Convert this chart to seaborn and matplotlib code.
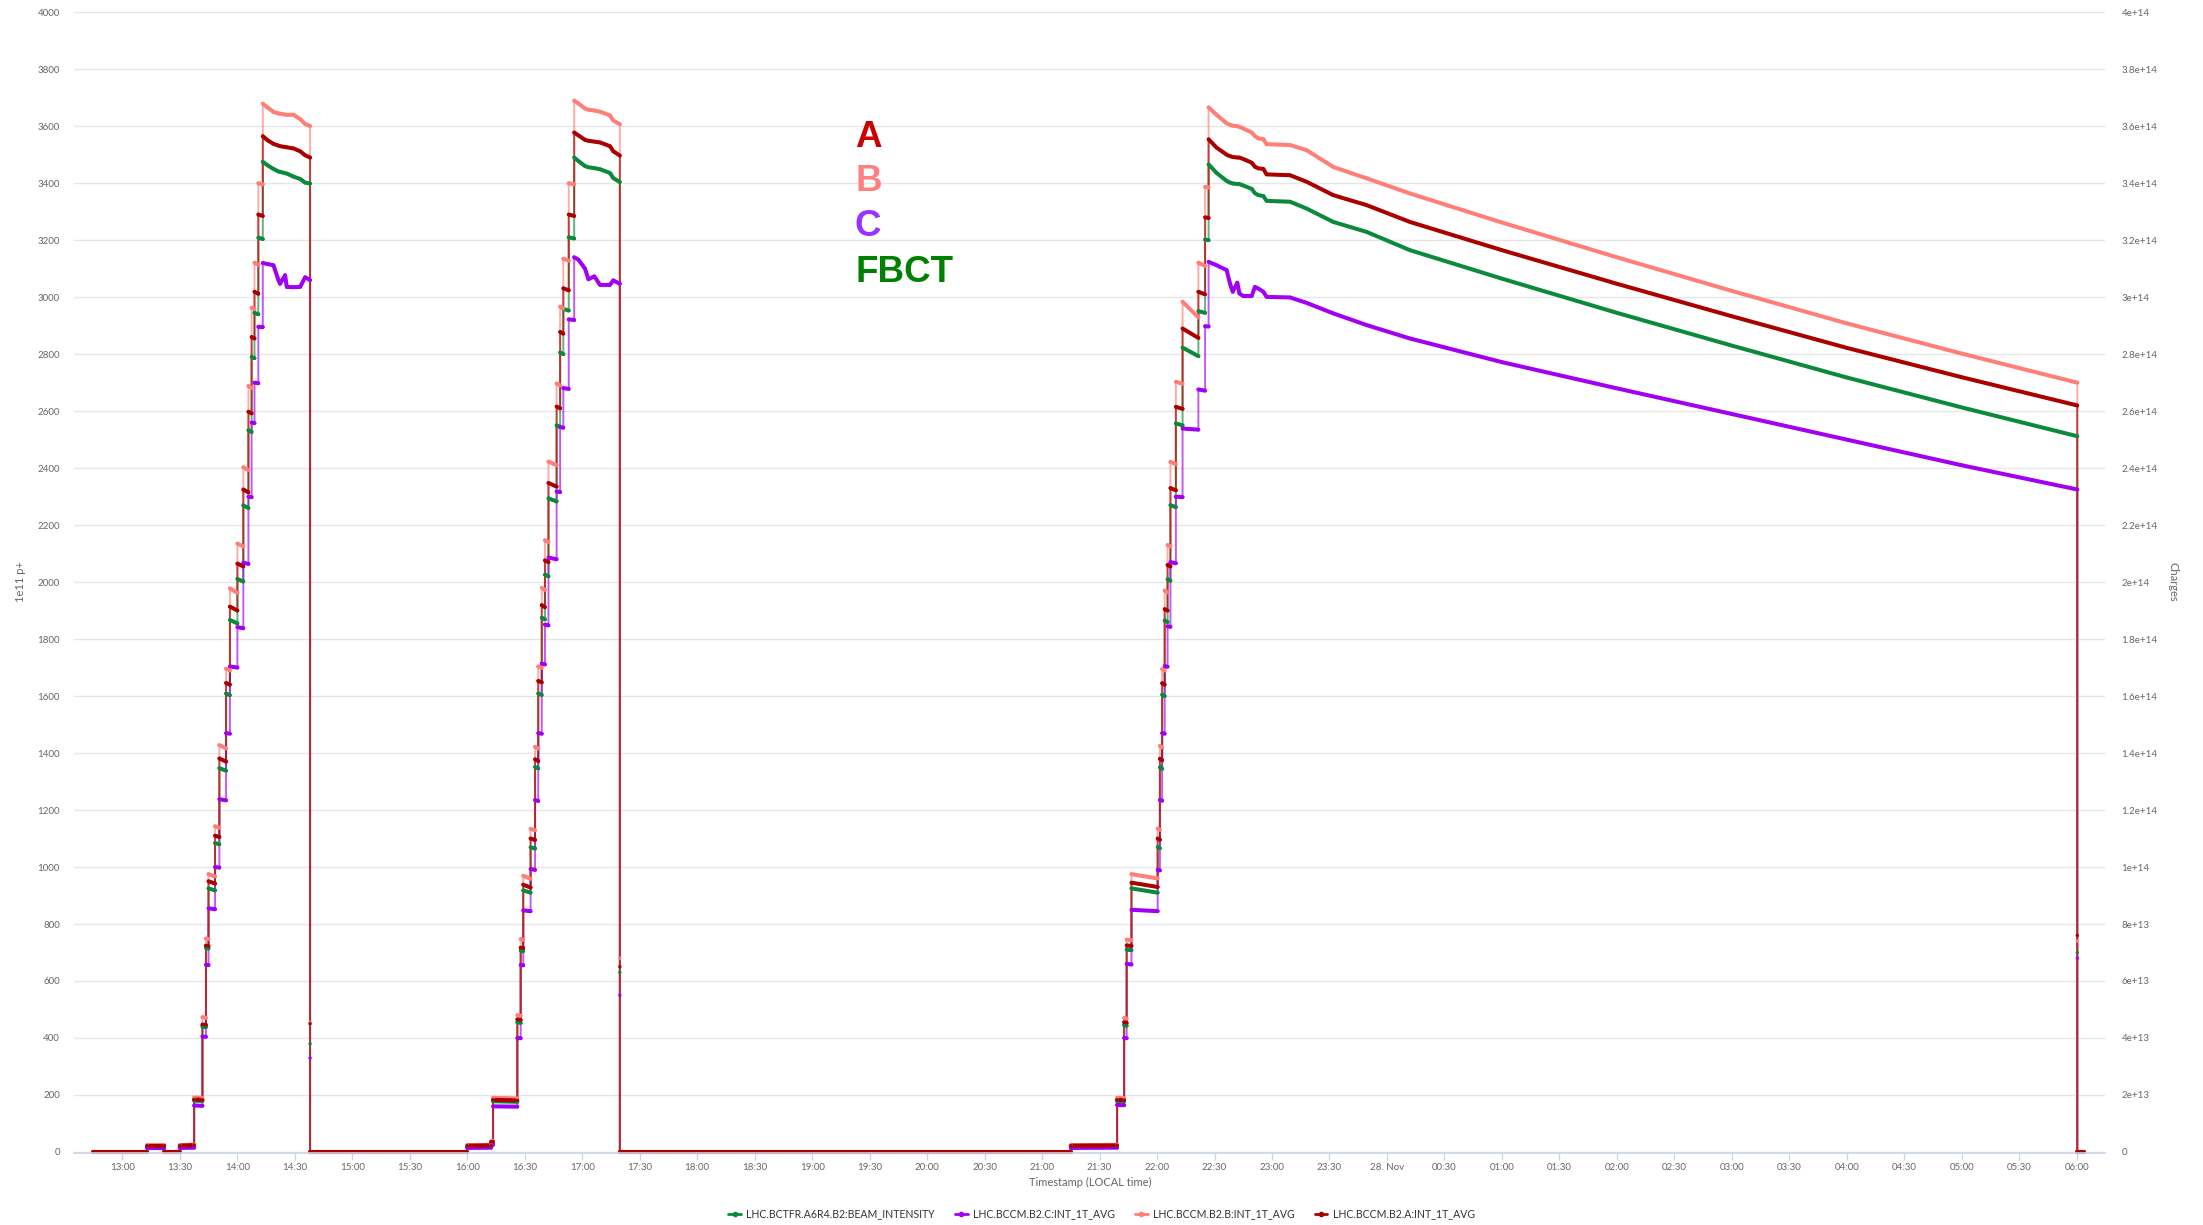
import numpy as np
import pandas as pd
import matplotlib
matplotlib.use("Agg")
import matplotlib.pyplot as plt
from matplotlib.lines import Line2D
import seaborn as sns

DAY1 = "2022-11-27"
DAY2 = "2022-11-28"

SERIES = [
    "LHC.BCTFR.A6R4.B2:BEAM_INTENSITY",
    "LHC.BCCM.B2.C:INT_1T_AVG",
    "LHC.BCCM.B2.B:INT_1T_AVG",
    "LHC.BCCM.B2.A:INT_1T_AVG",
]
COLORS = ["#0b8a3b", "#a100f2", "#ff7f78", "#aa0000"]

# ---- fill 1 (1e11 p+) ----
fill1_time = ["12:44:30", "13:13:00", "13:13:00", "13:22:00", "13:22:00", "13:30:00", "13:30:00",
              "13:37:30", "13:37:30", "13:41:50", "13:41:50", "13:43:40", "13:43:40", "13:45:00",
              "13:45:00", "13:48:25", "13:48:25", "13:50:40", "13:50:40", "13:54:10", "13:54:10",
              "13:56:10", "13:56:10", "14:00:05", "14:00:05", "14:03:10", "14:03:10", "14:05:50",
              "14:05:50", "14:07:30", "14:07:30", "14:09:00", "14:09:00", "14:11:00", "14:11:00",
              "14:13:20", "14:13:20", "14:16:00", "14:18:55", "14:21:30", "14:22:20", "14:25:00",
              "14:25:50", "14:29:20", "14:32:50", "14:35:25", "14:38:00", "14:38:00", "14:38:00"]
fill1_a = [0, 0, 22, 22, 0, 0, 22, 24, 184, 183, 447, 446, 724, 722, 950, 942, 1110, 1105, 1381, 1370,
           1646, 1640, 1914, 1900, 2065, 2055, 2325, 2315, 2598, 2592, 2860, 2855, 3019, 3012, 3290,
           3285, 3565, 3550, 3538, 3532, 3530, 3527, 3526, 3522, 3512, 3498, 3490, 450, 0]
fill1_b = [0, 0, 24, 24, 0, 0, 24, 26, 191, 190, 473, 471, 749, 747, 975, 967, 1143, 1138, 1428, 1416,
           1696, 1690, 1978, 1962, 2135, 2125, 2403, 2393, 2688, 2682, 2963, 2958, 3121, 3114, 3400,
           3396, 3679, 3665, 3650, 3645, 3644, 3641, 3640, 3640, 3625, 3608, 3601, 455, 0]
fill1_c = [0, 0, 14, 14, 0, 0, 14, 15, 163, 162, 405, 404, 657, 656, 855, 852, 1000, 998, 1238, 1234,
           1470, 1468, 1704, 1700, 1842, 1838, 2068, 2064, 2300, 2298, 2560, 2558, 2700, 2698, 2896,
           2895, 3120, 3116, 3112, 3060, 3047, 3077, 3036, 3035, 3036, 3070, 3060, 330, 0]
fill1_fbct = [0, 0, 20, 20, 0, 0, 20, 22, 180, 179, 440, 438, 716, 714, 925, 918, 1084, 1080, 1347, 1338,
              1609, 1603, 1867, 1855, 2011, 2002, 2269, 2260, 2533, 2527, 2790, 2786, 2945, 2940, 3209,
              3204, 3475, 3462, 3450, 3441, 3440, 3435, 3434, 3423, 3415, 3402, 3399, 380, 0]

# ---- fill 2 ----
fill2_time = ["16:00:00", "16:00:00", "16:12:30", "16:12:30", "16:13:30", "16:13:30", "16:26:10",
              "16:26:10", "16:27:55", "16:27:55", "16:29:15", "16:29:15", "16:33:05", "16:33:05",
              "16:35:25", "16:35:25", "16:37:05", "16:37:05", "16:38:55", "16:38:55", "16:40:35",
              "16:40:35", "16:42:25", "16:42:25", "16:46:40", "16:46:40", "16:48:30", "16:48:30",
              "16:50:10", "16:50:10", "16:53:00", "16:53:00", "16:55:50", "16:55:50", "16:58:00",
              "17:01:30", "17:03:15", "17:06:20", "17:09:20", "17:14:30", "17:16:15", "17:19:40",
              "17:19:40", "17:19:40"]
fill2_a = [0, 22, 23, 36, 36, 183, 181, 465, 463, 717, 715, 938, 928, 1100, 1095, 1378, 1372, 1653,
           1648, 1919, 1912, 2076, 2070, 2348, 2335, 2616, 2610, 2878, 2872, 3031, 3024, 3290, 3285,
           3578, 3568, 3552, 3549, 3546, 3543, 3530, 3512, 3497, 650, 0]
fill2_b = [0, 24, 25, 38, 38, 190, 188, 480, 478, 747, 745, 969, 959, 1134, 1129, 1422, 1416, 1704,
           1699, 1980, 1973, 2147, 2140, 2423, 2410, 2697, 2690, 2967, 2960, 3135, 3128, 3400, 3396,
           3690, 3680, 3662, 3658, 3655, 3651, 3638, 3620, 3607, 680, 0]
fill2_c = [0, 14, 15, 26, 26, 160, 159, 400, 399, 656, 655, 848, 845, 993, 990, 1235, 1232, 1470,
           1468, 1714, 1711, 1851, 1848, 2086, 2080, 2318, 2316, 2544, 2542, 2681, 2678, 2922, 2920,
           3140, 3132, 3100, 3063, 3073, 3043, 3043, 3059, 3047, 550, 0]
fill2_fbct = [0, 20, 21, 33, 33, 178, 176, 455, 453, 707, 705, 918, 910, 1069, 1065, 1351, 1346, 1609,
              1604, 1875, 1869, 2026, 2020, 2294, 2283, 2550, 2545, 2806, 2800, 2959, 2953, 3210, 3206,
              3490, 3478, 3460, 3456, 3453, 3449, 3436, 3418, 3404, 630, 0]

# ---- fill 3 ----
fill3_time = ["21:15:00", "21:15:00", "21:39:10", "21:39:10", "21:42:50", "21:42:50", "21:44:10",
              "21:44:10", "21:46:40", "21:46:40", "22:00:20", "22:00:20", "22:01:30", "22:01:30",
              "22:02:40", "22:02:40", "22:04:00", "22:04:00", "22:05:30", "22:05:30", "22:07:00",
              "22:07:00", "22:09:50", "22:09:50", "22:13:20", "22:13:20", "22:21:35", "22:21:35",
              "22:25:05", "22:25:05", "22:26:55", "22:26:55", "22:31:05", "22:36:20", "22:38:05",
              "22:39:30", "22:41:55", "22:43:00", "22:45:00", "22:49:25", "22:51:05", "22:52:55",
              "22:55:30", "22:57:10", "23:09:25", "23:18:05", "23:32:00", "23:49:25", "00:12:00",
              "01:00:00", "02:00:00", "03:00:00", "04:00:00", "05:00:00", "06:00:15", "06:00:15",
              "06:00:15", "06:04:00"]
fill3_a = [0, 22, 23, 183, 182, 455, 453, 725, 723, 945, 930, 1100, 1096, 1380, 1375, 1645, 1640, 1905,
           1900, 2060, 2055, 2330, 2322, 2615, 2608, 2890, 2857, 3019, 3010, 3280, 3278, 3554, 3525,
           3500, 3495, 3492, 3490, 3490, 3485, 3472, 3458, 3452, 3450, 3431, 3428, 3405, 3358, 3323,
           3264, 3165, 3047, 2933, 2822, 2719, 2620, 760, 0, 0]
fill3_b = [0, 24, 25, 190, 189, 470, 468, 745, 743, 975, 960, 1135, 1131, 1425, 1420, 1695, 1690, 1970,
           1964, 2130, 2125, 2422, 2414, 2703, 2696, 2984, 2929, 3121, 3110, 3387, 3385, 3666, 3640,
           3610, 3605, 3602, 3600, 3598, 3592, 3578, 3565, 3557, 3555, 3537, 3534, 3516, 3457, 3417,
           3364, 3262, 3140, 3022, 2908, 2802, 2700, 740, 0, 0]
fill3_c = [0, 14, 15, 165, 164, 400, 399, 660, 658, 850, 845, 990, 988, 1235, 1233, 1470, 1468, 1705,
           1703, 1845, 1843, 2070, 2066, 2300, 2298, 2539, 2535, 2676, 2672, 2898, 2897, 3124, 3112,
           3095, 3048, 3019, 3051, 3013, 3004, 3004, 3036, 3030, 3019, 3001, 2999, 2980, 2943, 2902,
           2855, 2772, 2680, 2590, 2500, 2410, 2325, 680, 0, 0]
fill3_fbct = [0, 20, 21, 178, 177, 445, 443, 710, 708, 925, 910, 1070, 1066, 1350, 1345, 1605, 1600,
              1865, 1860, 2010, 2005, 2270, 2263, 2557, 2550, 2823, 2793, 2951, 2945, 3202, 3200, 3466,
              3436, 3408, 3402, 3399, 3397, 3397, 3392, 3380, 3365, 3358, 3355, 3338, 3335, 3311, 3264,
              3229, 3165, 3065, 2945, 2830, 2718, 2613, 2512, 700, 0, 0]

LEFT_TICKS = list(range(0, 4001, 200))


def stamp(hms):
    day = DAY2 if int(hms[:2]) < 12 else DAY1
    return pd.Timestamp(f"{day} {hms}")


times = [stamp(s) for s in fill1_time + fill2_time + fill3_time]
series_values = {
    SERIES[0]: fill1_fbct + fill2_fbct + fill3_fbct,
    SERIES[1]: fill1_c + fill2_c + fill3_c,
    SERIES[2]: fill1_b + fill2_b + fill3_b,
    SERIES[3]: fill1_a + fill2_a + fill3_a,
}

frames = []
for name in SERIES:
    vals = series_values[name]
    d = pd.DataFrame({"time": times, "value": vals})
    d["series"] = name
    # a new solid segment starts at every instantaneous jump
    jump = d["time"].eq(d["time"].shift())
    d["seg"] = name + "#" + jump.cumsum().astype(str)
    frames.append(d)
df = pd.concat(frames, ignore_index=True)

sns.set_theme(style="white")
plt.rcParams["font.family"] = ["Lato", "DejaVu Sans"]

fig = plt.figure(figsize=(22.03, 12.25), dpi=100)
ax = fig.add_axes([0.0335, 0.0587, 0.922, 0.9313])

palette = dict(zip(SERIES, COLORS))

# thin connecting trace (shows the jumps)
sns.lineplot(data=df, x="time", y="value", hue="series", hue_order=SERIES, palette=palette,
             units="series", estimator=None, sort=False, lw=1.4, alpha=0.65,
             legend=False, ax=ax, clip_on=False)
# thick trace along the sampled plateaus
sns.lineplot(data=df, x="time", y="value", hue="series", hue_order=SERIES, palette=palette,
             units="seg", estimator=None, sort=False, lw=2.9,
             legend=False, ax=ax, clip_on=False, solid_capstyle="round")
# sample markers
sns.scatterplot(data=df[df["value"] > 0], x="time", y="value", hue="series", hue_order=SERIES,
                palette=palette, s=6, linewidth=0, legend=False, ax=ax, clip_on=False, zorder=3)

ax.set_xlim(pd.Timestamp(f"{DAY1} 12:34:42"), pd.Timestamp(f"{DAY2} 06:14:42"))
ax.set_ylim(-4, 4000)
ax.set_yticks(LEFT_TICKS)
ax.set_yticklabels([str(v) for v in LEFT_TICKS])

xticks = pd.date_range(f"{DAY1} 13:00", f"{DAY2} 06:00", freq="30min")
xlabels = ["28. Nov" if (t.hour == 0 and t.minute == 0) else t.strftime("%H:%M") for t in xticks]
ax.set_xticks(xticks)
ax.set_xticklabels(xlabels)

ax.grid(axis="y", color="#e6e6e6", lw=1)
ax.grid(axis="x", visible=False)
for side in ["left", "right", "top"]:
    ax.spines[side].set_visible(False)
ax.spines["bottom"].set_color("#ccd6eb")
ax.spines["bottom"].set_linewidth(1.2)
ax.set_axisbelow(True)
ax.tick_params(axis="y", length=0, pad=10, labelsize=7, labelcolor="#666666")
ax.tick_params(axis="x", bottom=True, length=5, width=1, color="#ccd6eb", pad=2,
               labelsize=7, labelcolor="#666666")
ax.set_xlabel("")
ax.set_ylabel("")

ax2 = ax.twinx()
ax2.set_ylim(-4, 4000)
ax2.set_yticks(LEFT_TICKS)
ax2.set_yticklabels([f"{v * 1e11:g}" for v in LEFT_TICKS])
ax2.grid(False)
for side in ["left", "right", "top", "bottom"]:
    ax2.spines[side].set_visible(False)
ax2.tick_params(axis="y", length=0, pad=12, labelsize=7, labelcolor="#666666")

fig.text(20 / 2203, 1 - 582 / 1225, "1e11 p+", rotation=90, ha="center", va="center",
         fontsize=8, color="#666666")
fig.text(2173 / 2203, 1 - 582 / 1225, "Charges", rotation=270, ha="center", va="center",
         fontsize=8, color="#666666")
fig.text(1090 / 2203, 1 - 1182 / 1225, "Timestamp (LOCAL time)", ha="center", va="center",
         fontsize=8, color="#666666")

# beam instrument labels
for label, col, base in [("A", "#cc0000", 147), ("B", "#ff8080", 191),
                         ("C", "#9933ff", 236), ("FBCT", "#008000", 282)]:
    fig.text(855 / 2203, 1 - base / 1225, label, color=col, fontsize=26.5, fontweight="bold",
             family=["Liberation Sans", "DejaVu Sans"], ha="left", va="baseline")

handles = [Line2D([0], [0], color=c, lw=2, marker="o", ms=3) for c in COLORS]
fig.legend(handles, SERIES, loc="center", bbox_to_anchor=(0.5, 1 - 1214 / 1225), ncol=4,
           frameon=False, fontsize=7.6, handlelength=1.2, handletextpad=0.5, columnspacing=1.9,
           labelcolor="#333333")

fig.savefig("out.png", dpi=100)
